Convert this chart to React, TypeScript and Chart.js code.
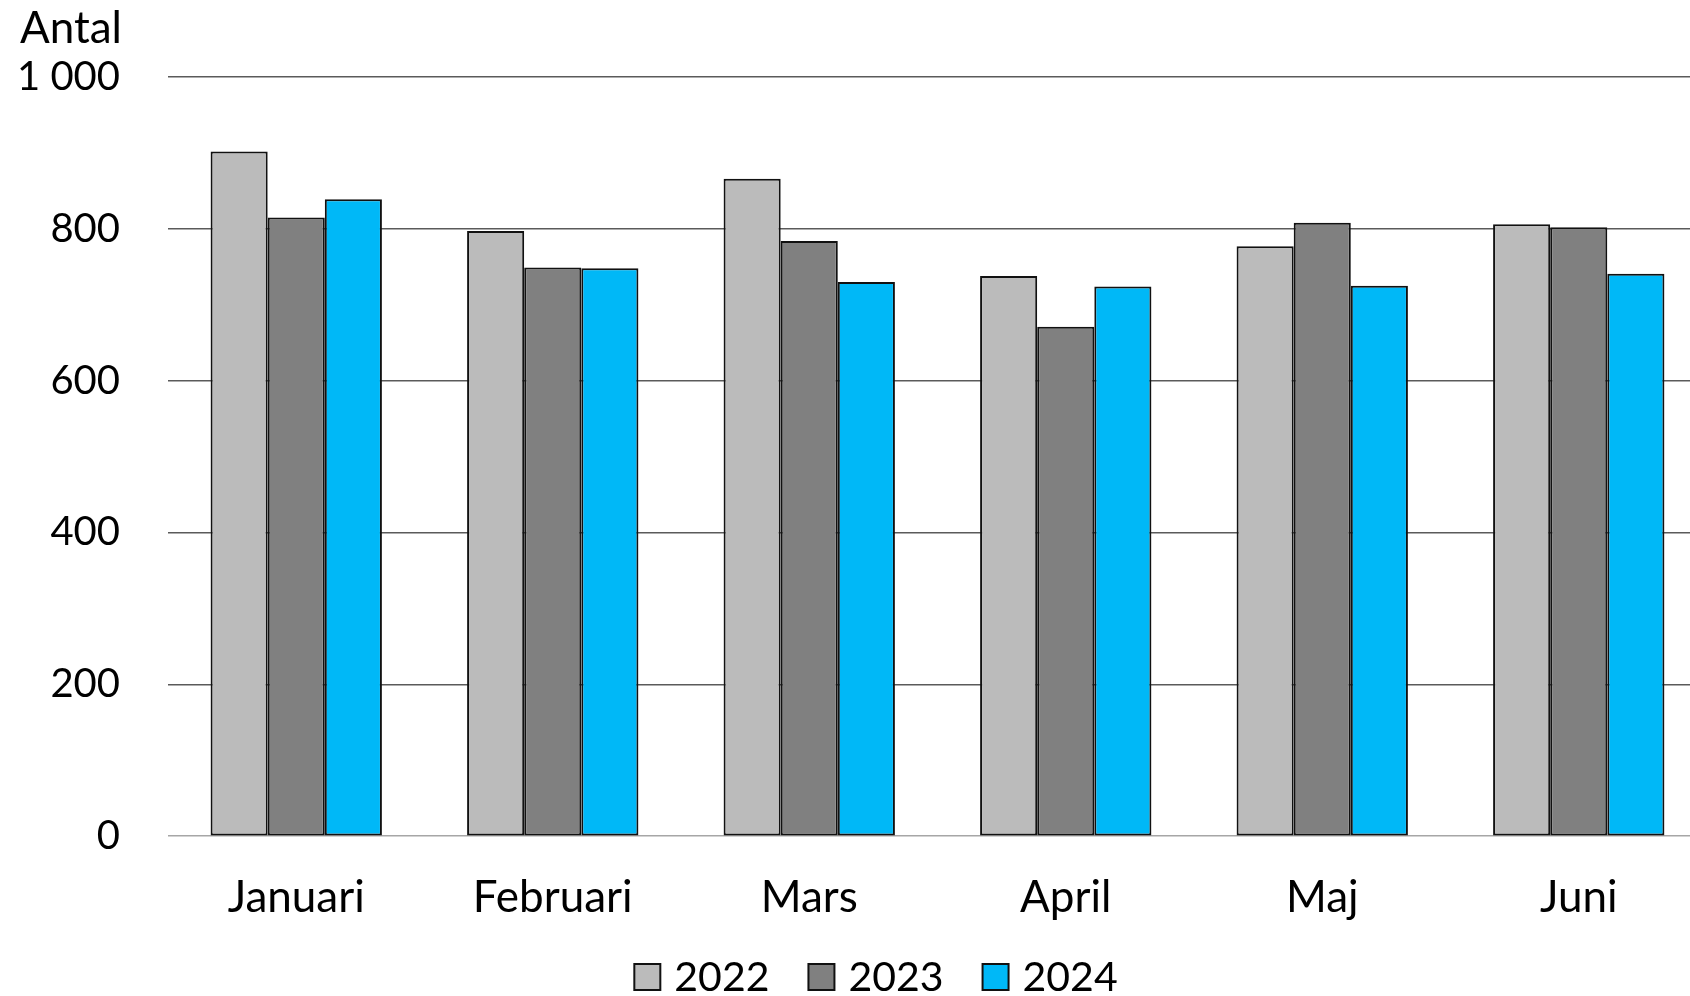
import React, { useEffect, useRef } from "react";
import { Chart, registerables } from "chart.js";

Chart.register(...registerables);

const categories = ["Januari", "Februari", "Mars", "April", "Maj", "Juni"];
const seriesNames = ["2022", "2023", "2024"];
const values2022 = [902, 797, 866, 738, 777, 806];
const values2023 = [815, 749, 784, 671, 808, 802];
const values2024 = [839, 748, 730, 724, 725, 741];
const seriesColors = ["#BBBBBB", "#808080", "#00B8F7"];
const yTitle = "Antal";
const FONT = "Lato, 'Open Sans', sans-serif";

export default function App() {
  const ref = useRef<HTMLCanvasElement | null>(null);
  useEffect(() => {
    if (!ref.current) return;
    const titlePlugin = {
      id: "ytitle",
      afterDraw(chart: any) {
        const ctx = chart.ctx;
        ctx.save();
        ctx.font = `44px ${FONT}`;
        ctx.fillStyle = "#000";
        ctx.textAlign = "right";
        ctx.textBaseline = "middle";
        ctx.fillText(yTitle, 122, 29);
        ctx.restore();
      },
    };
    const legendPlugin = {
      id: "customLegend",
      afterDraw(chart: any) {
        const ctx = chart.ctx;
        ctx.save();
        ctx.font = `41px ${FONT}`;
        ctx.textBaseline = "middle";
        ctx.textAlign = "left";
        const box = 26;
        const gap = 14;
        const spacing = 39;
        const items = chart.data.datasets.map((d: any) => ({
          text: d.label,
          color: d.backgroundColor,
          w: box + gap + ctx.measureText(d.label).width,
        }));
        const total = items.reduce((a: number, it: any) => a + it.w, 0) + spacing * (items.length - 1);
        const cy = 977;
        let x = 876 - total / 2;
        for (const it of items) {
          ctx.fillStyle = it.color;
          ctx.fillRect(x, cy - box / 2, box, box);
          ctx.strokeStyle = "#111";
          ctx.lineWidth = 2;
          ctx.strokeRect(x, cy - box / 2, box, box);
          ctx.fillStyle = "#000";
          ctx.fillText(it.text, x + box + gap, cy + 1);
          x += it.w + spacing;
        }
        ctx.restore();
      },
    };
    const chart = new Chart(ref.current, {
      type: "bar",
      data: {
        labels: categories,
        datasets: [
          { label: seriesNames[0], data: values2022, backgroundColor: seriesColors[0] },
          { label: seriesNames[1], data: values2023, backgroundColor: seriesColors[1] },
          { label: seriesNames[2], data: values2024, backgroundColor: seriesColors[2] },
        ].map((d) => ({ ...d, borderColor: "#111", borderWidth: 2, borderSkipped: false })),
      },
      options: {
        responsive: false,
        animation: false,
        devicePixelRatio: 1,
        layout: { padding: { top: 77, right: 0, bottom: 45, left: 0 } },
        datasets: { bar: { categoryPercentage: 0.668, barPercentage: 1 } },
        scales: {
          x: {
            grid: { display: false },
            border: { display: false },
            ticks: { color: "#000", font: { size: 44, family: FONT }, padding: 27 },
          },
          y: {
            min: 0,
            max: 1000,
            ticks: {
              stepSize: 200,
              color: "#000",
              font: { size: 40, family: FONT },
              padding: 48,
              callback: (v: any) => (Number(v) >= 1000 ? "1 000" : String(v)),
            },
            grid: {
              drawTicks: false,
              color: (c: any) => (c.tick && c.tick.value === 0 ? "#A6A6A6" : "#5A5A5A"),
              lineWidth: 1.5,
            },
            border: { display: false },
            afterFit: (s: any) => { s.width = 168; },
          },
        },
        plugins: {
          legend: { display: false },
          tooltip: { enabled: false },
        },
      },
      plugins: [titlePlugin, legendPlugin],
    } as any);
    return () => chart.destroy();
  }, []);
  return (
    <div style={{ position: "fixed", left: 0, top: 0, width: 1690, height: 996, overflow: "hidden", background: "#fff" }}>
      <canvas ref={ref} width={1707} height={996} style={{ display: "block" }} />
    </div>
  );
}
